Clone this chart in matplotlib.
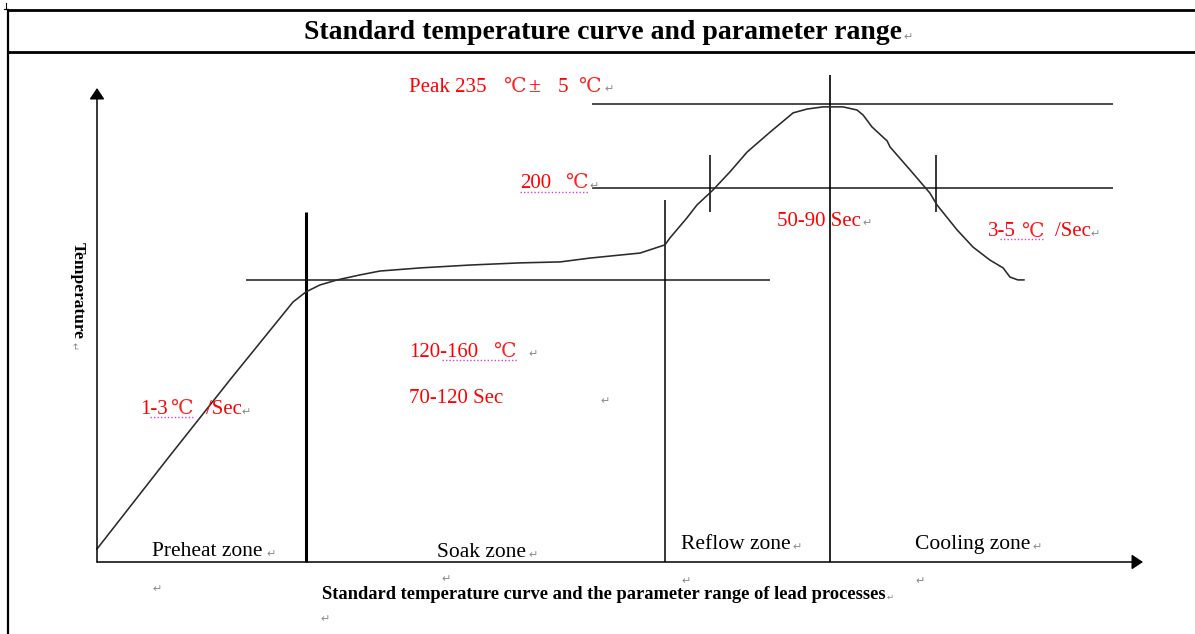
import matplotlib
matplotlib.use("Agg")
import matplotlib.pyplot as plt
from matplotlib.lines import Line2D

# ---- data -----------------------------------------------------------------
# reflow profile: time (s) and temperature (°C)
time_s = [0.0, 19.8, 37.0, 54.6, 58.2, 62.1, 66.9, 73.3, 78.8, 90.0,
          103.9, 117.8, 129.0, 137.3, 151.3, 158.2, 159.6, 164.3, 167.1, 171.6,
          176.3, 181.1, 187.5, 193.9, 197.8, 202.2, 207.8, 211.7, 213.4, 215.9,
          220.1, 220.9, 226.5, 232.0, 234.0, 239.6, 244.0, 248.7, 252.4, 254.3,
          256.5, 258.2]
temp_c = [49.6, 87.5, 120.0, 152.5, 156.7, 159.6, 161.7, 163.8, 165.4, 166.7,
          167.9, 168.8, 169.2, 170.8, 172.9, 176.3, 179.2, 187.5, 192.9, 199.2,
          206.7, 215.0, 223.3, 231.3, 232.9, 233.8, 233.8, 232.5, 230.4, 225.4,
          219.6, 217.1, 207.5, 197.9, 192.9, 182.5, 175.4, 170.0, 166.7, 162.9,
          161.7, 161.7]

zone_names = ["Preheat zone", "Soak zone", "Reflow zone", "Cooling zone"]
zone_bounds_s = [58.2, 158.2, 204.2]      # preheat|soak, soak|reflow, reflow|cooling
peak_c = 235
reflow_c = 200
soak_c = 161.7
above_reflow_s = [170.75, 233.7]          # where the profile crosses 200 °C

# ---- canvas / scale -------------------------------------------------------
W, H = 1195, 634
PX0, SX = 97, 3.59          # pixel of t = 0, pixels per second
PY200, SY = 188, 2.4        # pixel of 200 °C, pixels per °C
axis_c = reflow_c - (562 - PY200) / SY

fig = plt.figure(figsize=(W / 100, H / 100), dpi=100)
fig.patch.set_facecolor("white")
ax = fig.add_axes([0, 0, 1, 1])
ax.set_xlim(-PX0 / SX, (W - PX0) / SX)
ax.set_ylim(reflow_c - (H - PY200) / SY, reflow_c + PY200 / SY)
ax.axis("off")

SERIF = ["Liberation Serif", "DejaVu Serif"]
SYM = ["DejaVu Serif", "Noto Sans CJK SC", "DejaVu Sans"]


def fx(x):
    return x / W


def fy(y):
    return 1 - y / H


def fline(xs, ys, **kw):
    fig.add_artist(Line2D([fx(v) for v in xs], [fy(v) for v in ys],
                          transform=fig.transFigure, **kw))


def txt(x, y, s, size=15, color="red", weight="normal", family=SERIF, **kw):
    fig.text(fx(x), fy(y), s, fontsize=size, color=color, weight=weight,
             family=family, va="baseline", ha="left", **kw)


def deg(x, y):
    txt(x, y, "\u2103", family=SYM, size=14.5, color="#ff2020")


def ret(x, y, size=8):
    fig.text(fx(x), fy(y), "\u21b5", fontsize=size, color="#8a8a8a",
             family=["DejaVu Sans"], va="baseline", ha="left")


def dotted(x0, x1, y):
    fline([x0, x1], [y, y], color="#d040e0", lw=1.0, ls=(0, (1, 1.5)))


# ---- page frame -----------------------------------------------------------
fline([8, W], [10, 10], color="black", lw=2.0)
fline([8, W], [52, 52], color="black", lw=2.0)
fline([8, 8], [10, H], color="black", lw=1.6)
fline([5.5, 5.5], [3, 9], color="black", lw=0.8)
fline([3.5, 5.5], [9, 9], color="black", lw=0.8)

txt(304, 39, "Standard temperature curve and parameter range", size=20,
    color="black", weight="bold")
ret(903, 40)

# ---- axes with arrows -----------------------------------------------------
arrow = dict(arrowstyle="-|>,head_length=0.45,head_width=0.3", lw=1.1,
             color="black", shrinkA=0, shrinkB=0, mutation_scale=15)
ax.annotate("", xy=(0, reflow_c + (PY200 - 88) / SY), xytext=(0, axis_c),
            arrowprops=arrow)
ax.annotate("", xy=((1143 - PX0) / SX, axis_c), xytext=(0, axis_c),
            arrowprops=arrow)

# ---- guide lines ----------------------------------------------------------
guide = dict(color="#3c3c3c", lw=1.3, solid_capstyle="butt")
ax.plot([137.9, 283.0], [peak_c, peak_c], **guide)
ax.plot([137.9, 283.0], [reflow_c, reflow_c], **guide)
ax.plot([41.5, 187.5], [soak_c, soak_c], **guide)

ax.plot([zone_bounds_s[0]] * 2, [axis_c, 190], color="black", lw=2.2,
        solid_capstyle="butt")
ax.plot([zone_bounds_s[1]] * 2, [axis_c, 195], color="black", lw=1.1,
        solid_capstyle="butt")
ax.plot([zone_bounds_s[2]] * 2, [axis_c, 247.1], color="black", lw=1.2,
        solid_capstyle="butt")
for t in above_reflow_s:
    ax.plot([t, t], [190, 213.75], color="black", lw=1.1, solid_capstyle="butt")

# ---- profile curve --------------------------------------------------------
ax.plot(time_s, temp_c, color="#2a2a2a", lw=1.15, solid_joinstyle="round")

# ---- red annotations ------------------------------------------------------
txt(409, 92, "Peak 235")
deg(503, 92)
txt(528, 92, "\u00b1", size=16)
txt(558, 92, "5")
deg(578, 92)
ret(604, 92)

txt(520, 188, "200")
deg(565, 188)
ret(589, 189)
dotted(520, 588, 192)

txt(777, 226, "50-90 Sec")
ret(862, 226)

txt(988, 236.5, "3-5")
deg(1021, 236.5)
txt(1055, 236.5, "/Sec")
ret(1090, 237)
dotted(1000, 1043, 239)

txt(409, 357, "120-160")
deg(493, 357)
ret(528, 357)
dotted(442, 517, 360)

txt(409, 403, "70-120 Sec")
ret(600, 404)

txt(140, 414, "1-3")
deg(170, 414)
txt(206, 414, "/Sec")
ret(241, 415)
dotted(150, 193, 417)

# ---- black labels ---------------------------------------------------------
fig.text(fx(78), fy(291), "Temperature", rotation=270, fontsize=12.5,
         weight="bold", family=SERIF, ha="center", va="center", color="black")
fig.text(fx(73), fy(346), "\u21b5", rotation=270, fontsize=7, color="#8a8a8a",
         family=["DejaVu Sans"], ha="center", va="center")

zone_label_xy = [(152, 556), (437, 557), (681, 549), (915, 549)]
for name, (x, y) in zip(zone_names, zone_label_xy):
    txt(x, y, name, color="black", size=15.5)
ret(266, 557)
ret(528, 558)
ret(792, 550)
ret(1032, 550)

txt(322, 599, "Standard temperature curve and the parameter range of lead processes",
    size=13.3, color="black", weight="bold")
ret(887, 600, size=6)
ret(152, 592)
ret(441, 582)
ret(681, 584)
ret(915, 584)
ret(320, 622)

fig.savefig("out.png", dpi=100, facecolor="white")
